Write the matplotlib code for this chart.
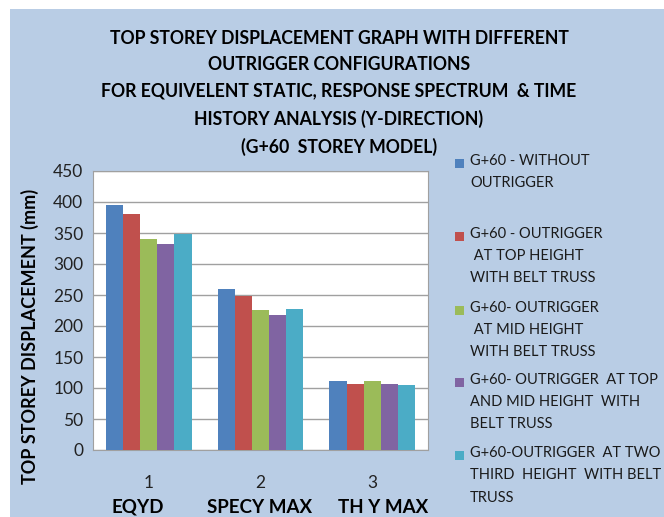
import matplotlib.pyplot as plt
import numpy as np
from matplotlib.patches import Rectangle

plt.rcParams['font.family'] = ['Lato', 'DejaVu Sans']

categories = ['EQYD', 'SPECY MAX', 'TH Y MAX']
series_labels = [
    'G+60 - WITHOUT\nOUTRIGGER',
    'G+60 - OUTRIGGER\n AT TOP HEIGHT\nWITH BELT TRUSS',
    'G+60- OUTRIGGER\n AT MID HEIGHT\nWITH BELT TRUSS',
    'G+60- OUTRIGGER  AT TOP\nAND MID HEIGHT  WITH\nBELT TRUSS',
    'G+60-OUTRIGGER  AT TWO\nTHIRD  HEIGHT  WITH BELT\nTRUSS',
]
without = [395, 260, 112]
top_belt = [381, 249, 107]
mid_belt = [341, 226, 112]
top_mid_belt = [332, 217, 107]
two_third_belt = [348, 228, 105]
series = [without, top_belt, mid_belt, top_mid_belt, two_third_belt]
colors = ['#4F81BD', '#C0504D', '#9BBB59', '#8064A2', '#4BACC6']

title = ('TOP STOREY DISPLACEMENT GRAPH WITH DIFFERENT\n'
         'OUTRIGGER CONFIGURATIONS\n'
         'FOR EQUIVELENT STATIC, RESPONSE SPECTRUM  & TIME\n'
         'HISTORY ANALYSIS (Y-DIRECTION)\n'
         '(G+60  STOREY MODEL)')

fig = plt.figure(figsize=(6.64, 5.17), dpi=100)
fig.patch.set_facecolor('white')
fig.patches.append(Rectangle((10 / 664, 0), 1, 1 - 9 / 517, transform=fig.transFigure,
                             facecolor='#B9CDE5', edgecolor='none', zorder=-10))

ax = fig.add_axes([93 / 664, 67 / 517, 335 / 664, 279 / 517])
x = np.arange(1, len(categories) + 1)
w = 0.153
for i, (vals, c) in enumerate(zip(series, colors)):
    ax.bar(x + (i - 2) * w, vals, width=w, color=c, zorder=3)

ax.set_xlim(0.5, 3.5)
ax.set_ylim(0, 450)
ax.set_yticks(range(0, 451, 50))
ax.set_xticks(x)
ax.set_xticklabels([str(v) for v in x])
ax.tick_params(length=0, labelsize=12.5, colors='#222222')
ax.tick_params(axis='x', pad=18)
ax.tick_params(axis='y', pad=7)
ax.grid(axis='y', color='#A0A0A0', linewidth=1, zorder=0)
for s in ax.spines.values():
    s.set_color('#A0A0A0')
ax.set_facecolor('white')

# category names sit as a spaced axis title under the 1/2/3 ticks
cat_pos = [0.9, 1.995, 3.1]
for xp, cat in zip(cat_pos, categories):
    ax.text(xp, -0.205, cat, transform=ax.get_xaxis_transform(), ha='center', va='center',
            fontsize=13.5, fontweight='bold')

fig.text(30 / 664, 1 - 336 / 517, 'TOP STOREY DISPLACEMENT (mm)', rotation=90,
         ha='center', va='center', fontsize=13, fontweight='bold')

fig.text(339 / 664, 1 - 93 / 517, title, ha='center', va='center', fontsize=12.7,
         fontweight='bold', linespacing=1.68)

# legend, drawn by hand so the swatches sit on the first line
tops = [163, 236, 310, 382, 455]
for lab, c, t in zip(series_labels, colors, tops):
    fig.patches.append(Rectangle((455 / 664, 1 - (t + 5) / 517), 9 / 664, 9 / 517,
                                 transform=fig.transFigure, facecolor=c, edgecolor='none'))
    fig.text(470 / 664, 1 - (t - 9) / 517, lab, ha='left', va='top', fontsize=10.5,
             linespacing=1.75, color='#1a1a1a')

fig.savefig('out.png', dpi=100)
